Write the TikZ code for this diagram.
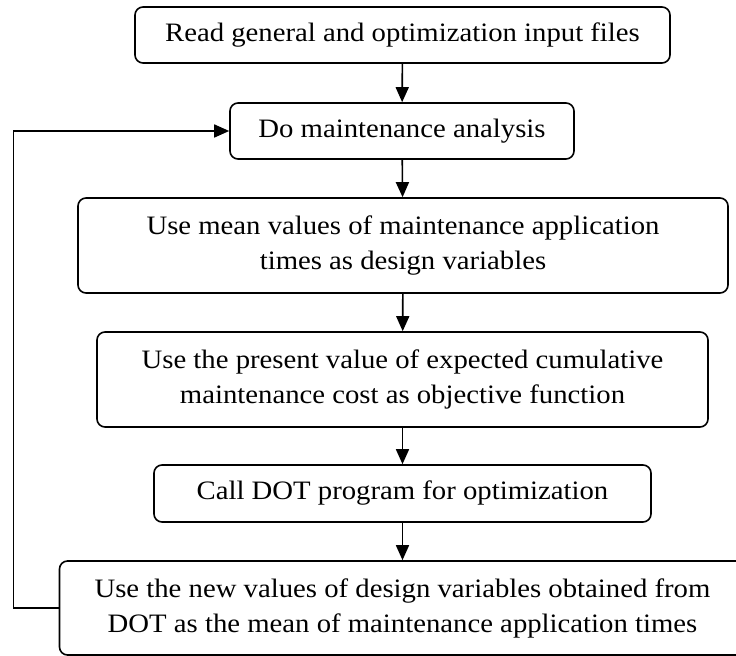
\documentclass[tikz,border=0pt]{standalone}
\usepackage{fontspec}
\setmainfont{Liberation Serif}[FakeStretch=1.08]
\usetikzlibrary{calc, arrows.meta}

\begin{document}
\begin{tikzpicture}[
		x=0.5pt, y=-0.5pt,
		box/.style={draw, rounded corners=4pt, line width=0.8pt, align=center,
			inner sep=0pt, font=\fontsize{13.3pt}{17.5pt}\selectfont},
		flow/.style={line width=0.8pt, -{Triangle[length=7.5pt,width=6.5pt]}}]
		\useasboundingbox (0,0) rectangle (736,656);
		\node[box, minimum width=267.5pt, minimum height=28pt] (read) at (402.5,35)
			{Read general and optimization input files};
		\node[box, minimum width=172pt, minimum height=28pt] (analysis) at (402,131)
			{Do maintenance analysis};
		\node[box, minimum width=325pt, minimum height=47.5pt] (means) at (403,245.5)
			{Use mean values of maintenance application\\times as design variables};
		\node[box, minimum width=305.5pt, minimum height=47.5pt] (cost) at (402.5,379.5)
			{Use the present value of expected cumulative\\maintenance cost as objective function};
		\node[box, minimum width=248.5pt, minimum height=28.5pt] (dot) at (402.5,493.5)
			{Call DOT program for optimization};
		\node[box, minimum width=343pt, minimum height=47pt] (update) at (402.5,608)
			{Use the new values of design variables obtained from\\DOT as the mean of maintenance application times};
		\draw[flow] (read) -- (analysis);
		\draw[flow] (analysis) -- (means);
		\draw[flow] (means) -- (cost);
		\draw[flow] (cost) -- (dot);
		\draw[flow] (dot) -- (update);
		% loop back to the analysis step
		\draw[flow] (update.west) -- ++(-45,0) |- (analysis.west);
\end{tikzpicture}
\end{document}
